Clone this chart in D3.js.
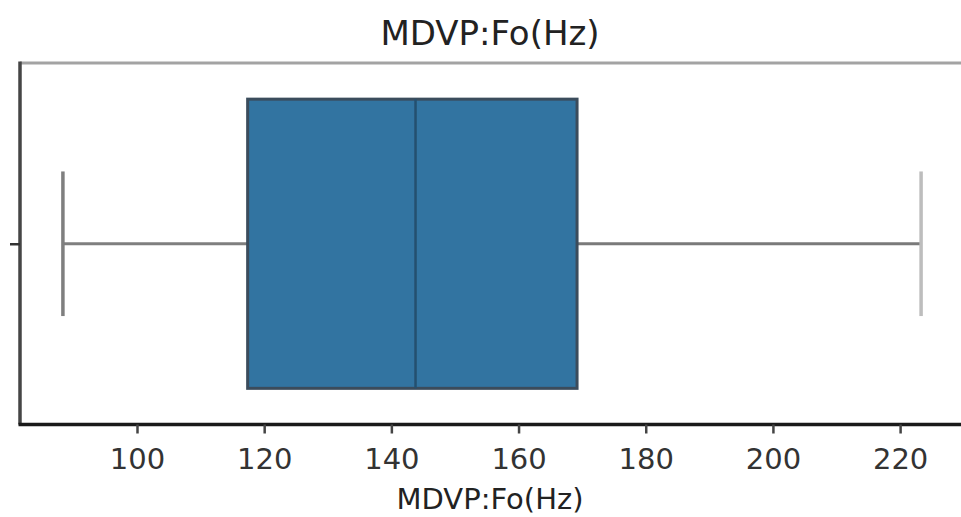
<!DOCTYPE html>
<html>
<head>
<meta charset="utf-8">
<script src="https://cdn.jsdelivr.net/npm/d3@7"></script>
<style>
  html, body { margin: 0; padding: 0; background: #fff; }
  text { font-family: "DejaVu Sans", sans-serif; }
</style>
</head>
<body>
<svg id="chart" width="961" height="517"></svg>
<script>
// Five-number summary of the fundamental frequency feature
const featureName = "MDVP:Fo(Hz)";
const categories = [featureName];
const whiskerLow = [88.35];
const quartile1 = [117.4];
const medians = [143.8];
const quartile3 = [169.2];
const whiskerHigh = [223.3];
const xTickValues = [100, 120, 140, 160, 180, 200, 220];

const svg = d3.select("#chart");
const W = 961, H = 517;
const plot = { left: 20, top: 63, right: 964, bottom: 424.5 };

// Horizontal value scale with a 5% margin around the whisker range
const lo = d3.min(whiskerLow), hi = d3.max(whiskerHigh);
const pad = (hi - lo) * 0.05;
const x = d3.scaleLinear().domain([lo - pad, hi + pad]).range([plot.left, plot.right]);

// Categorical position: single box centred at 0
const y = d3.scaleLinear().domain([-0.5, 0.5]).range([plot.top, plot.bottom]);

const boxes = categories.map((c, i) => ({
  name: c, pos: i, lo: whiskerLow[i], q1: quartile1[i], med: medians[i], q3: quartile3[i], hi: whiskerHigh[i]
}));

const g = svg.append("g");

boxes.forEach(b => {
  // whisker stems
  g.append("line")
    .attr("x1", x(b.lo)).attr("x2", x(b.q1))
    .attr("y1", y(b.pos)).attr("y2", y(b.pos))
    .attr("stroke", "#7f7f7f").attr("stroke-width", 3);
  g.append("line")
    .attr("x1", x(b.q3)).attr("x2", x(b.hi))
    .attr("y1", y(b.pos)).attr("y2", y(b.pos))
    .attr("stroke", "#7a7a7a").attr("stroke-width", 3);
  // caps
  g.append("line")
    .attr("x1", x(b.lo)).attr("x2", x(b.lo))
    .attr("y1", y(b.pos - 0.2)).attr("y2", y(b.pos + 0.2))
    .attr("stroke", "#7f7f7f").attr("stroke-width", 3.5);
  g.append("line")
    .attr("x1", x(b.hi)).attr("x2", x(b.hi))
    .attr("y1", y(b.pos - 0.2)).attr("y2", y(b.pos + 0.2))
    .attr("stroke", "#bdbdbd").attr("stroke-width", 3.5);
  // box
  g.append("rect")
    .attr("x", x(b.q1)).attr("y", y(b.pos - 0.4))
    .attr("width", x(b.q3) - x(b.q1)).attr("height", y(b.pos + 0.4) - y(b.pos - 0.4))
    .attr("fill", "#3274a1").attr("stroke", "#3b4c5c").attr("stroke-width", 3);
  // median
  g.append("line")
    .attr("x1", x(b.med)).attr("x2", x(b.med))
    .attr("y1", y(b.pos - 0.4)).attr("y2", y(b.pos + 0.4))
    .attr("stroke", "#24506f").attr("stroke-width", 2.5);
});

// spines
svg.append("line").attr("x1", plot.left).attr("x2", W).attr("y1", plot.top).attr("y2", plot.top)
  .attr("stroke", "#a3a3a3").attr("stroke-width", 3);
svg.append("line").attr("x1", plot.left).attr("x2", plot.left).attr("y1", plot.top - 1.5).attr("y2", plot.bottom)
  .attr("stroke", "#454545").attr("stroke-width", 3.5);

// x axis
const xAxis = d3.axisBottom(x).tickValues(xTickValues).tickSize(9).tickPadding(15).tickSizeOuter(0);
const xg = svg.append("g").attr("transform", `translate(0,${plot.bottom})`).call(xAxis);
xg.select(".domain").attr("d", `M${plot.left - 1.5},0H${W}`).attr("stroke", "#1a1a1a").attr("stroke-width", 3.5);
xg.selectAll(".tick line").attr("stroke", "#444").attr("stroke-width", 2.5);
xg.selectAll(".tick text").attr("font-size", 29).attr("fill", "#333").attr("font-family", "DejaVu Sans, sans-serif");

// y axis tick (single category, no label)
const yAxis = d3.axisLeft(d3.scaleLinear().domain([-0.5, 0.5]).range([plot.top, plot.bottom]))
  .tickValues(boxes.map(b => b.pos)).tickFormat("").tickSize(10).tickSizeOuter(0);
const yg = svg.append("g").attr("transform", `translate(${plot.left},0)`).call(yAxis);
yg.select(".domain").remove();
yg.selectAll(".tick line").attr("stroke", "#333").attr("stroke-width", 2.5);

// title and axis label
svg.append("text").attr("x", 490).attr("y", 45).attr("text-anchor", "middle")
  .attr("font-size", 34).attr("fill", "#222").text(featureName);
svg.append("text").attr("x", 490).attr("y", 509).attr("text-anchor", "middle")
  .attr("font-size", 29).attr("fill", "#222").text(featureName);
</script>
</body>
</html>
